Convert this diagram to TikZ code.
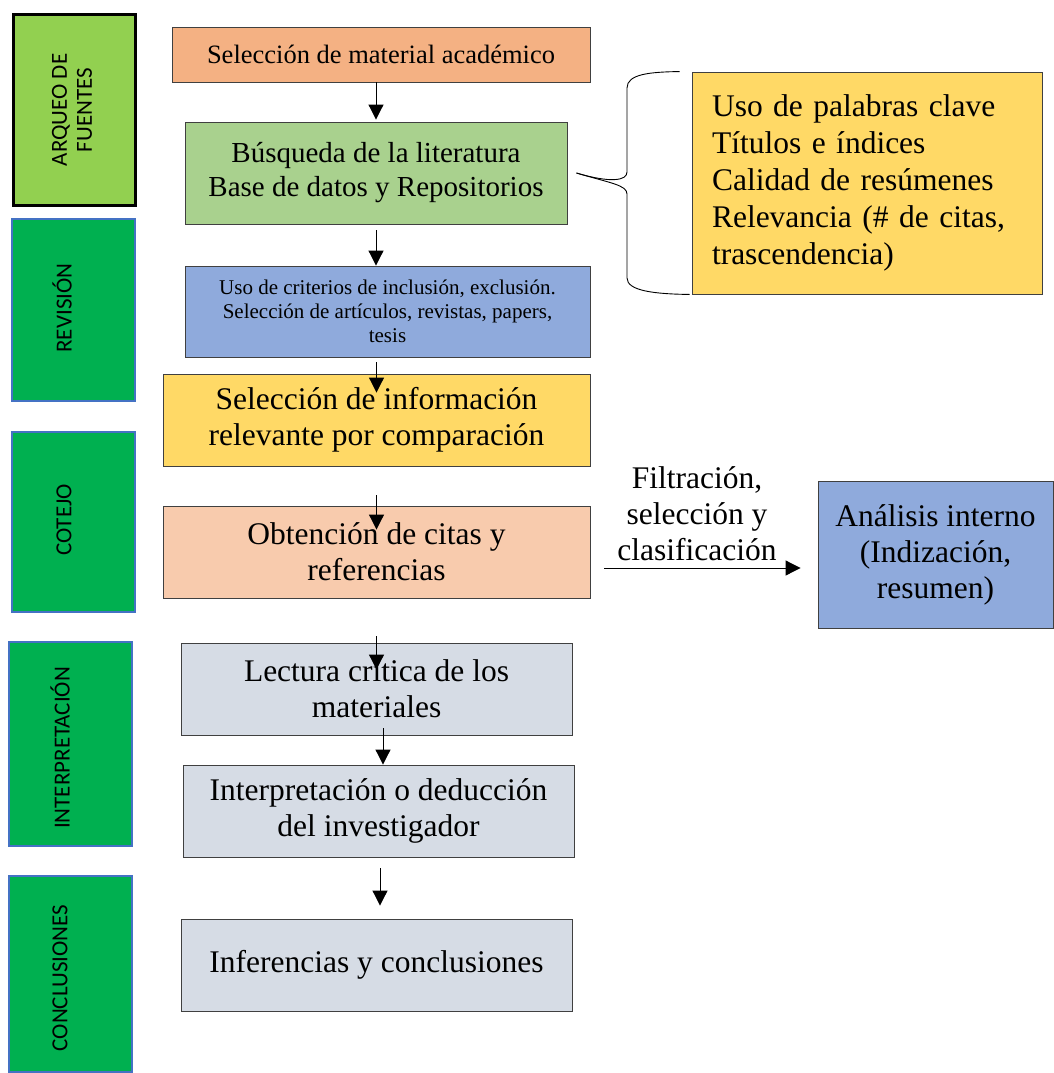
\documentclass[tikz,border=0pt]{standalone}
\usepackage{fontspec}
\setmainfont{Liberation Serif}
\newfontfamily\calfont{Carlito}
\usetikzlibrary{arrows.meta}
\definecolor{orangeA}{HTML}{F4B183}
\definecolor{greenA}{HTML}{A9D18E}
\definecolor{blueA}{HTML}{8FAADC}
\definecolor{yellowA}{HTML}{FFD966}
\definecolor{peachA}{HTML}{F8CBAD}
\definecolor{grayA}{HTML}{D6DCE5}
\definecolor{limeA}{HTML}{92D050}
\definecolor{greenB}{HTML}{00B050}
\definecolor{sideblue}{HTML}{4472C4}
\begin{document}
\begin{tikzpicture}[x=1pt,y=-1pt,
  box/.style={draw=black!75, line width=0.9pt, align=center, inner sep=0pt, font=\fontsize{31.5}{36}\selectfont},
  side/.style={draw=sideblue, line width=2.2pt, fill=greenB, inner sep=0pt},
  sidetxt/.style={rotate=90, align=center, inner sep=0pt, font=\calfont\fontsize{23}{25}\selectfont},
  arr/.style={-{Triangle[length=15pt,width=15pt]}, line width=1pt}]
\useasboundingbox (0,0) rectangle (1054,1073);

% sidebars
\node[side, draw=black, line width=3pt, fill=limeA, minimum width=122pt, minimum height=190pt] (s1) at (74,110) {};
\node[sidetxt] (t1) at (72,110) {ARQUEO DE\\FUENTES};
\node[side, minimum width=123pt, minimum height=182pt] (s2) at (73.5,310) {};
\node[sidetxt] (t2) at (62,308) {REVISIÓN};
\node[side, minimum width=123pt, minimum height=180pt] (s3) at (73.5,522) {};
\node[sidetxt] (t3) at (64,520) {COTEJO};
\node[side, minimum width=123pt, minimum height=204pt] (s4) at (70.5,744) {};
\node[sidetxt] (t4) at (60,748) {INTERPRETACIÓN};
\node[side, minimum width=123pt, minimum height=196pt] (s5) at (70.5,974) {};
\node[sidetxt] (t5) at (60,978) {CONCLUSIONES};

% main column
\node[box, fill=orangeA, minimum width=418pt, minimum height=55pt, font=\fontsize{26.5}{30}\selectfont] (b1) at (381,54.5) {Selección de material académico};
\node[box, fill=greenA, minimum width=382pt, minimum height=102pt, font=\fontsize{29}{34}\selectfont] (b2) at (376,173) {Búsqueda de la literatura\\Base de datos y Repositorios};
\node[box, fill=blueA, minimum width=405pt, minimum height=91pt, font=\fontsize{21}{24}\selectfont] (b3) at (387.5,311.5) {Uso de criterios de inclusión, exclusión.\\Selección de artículos, revistas, papers,\\tesis};
\node[box, fill=yellowA, minimum width=427pt, minimum height=92pt] (b4) at (376.5,420) {Selección de información\\relevante por comparación};
\node[box, fill=peachA, minimum width=427pt, minimum height=92pt] (b5) at (376.5,552) {Obtención de citas y\\referencias};
\node[box, fill=grayA, minimum width=391pt, minimum height=92pt] (b6) at (376.5,689) {Lectura crítica de los\\materiales};
\node[box, fill=grayA, minimum width=391pt, minimum height=92pt] (b7) at (378.5,811) {Interpretación o deducción\\del investigador};
\node[box, fill=grayA, minimum width=391pt, minimum height=92pt] (b8) at (376.5,965) {Inferencias y conclusiones};

% right side
\node[box, fill=yellowA, minimum width=350pt, minimum height=222pt, text width=310pt, align=left, font=\fontsize{31.5}{37}\selectfont] (r1) at (867,183) {Uso de palabras clave\\Títulos e índices\\Calidad de resúmenes\\Relevancia (\# de citas,\\trascendencia)};
\node[box, fill=blueA, minimum width=235pt, minimum height=147pt] (r2) at (935.5,554.5) {Análisis interno\\(Indización,\\resumen)};
\node[align=center, inner sep=0pt, font=\fontsize{31.5}{36}\selectfont] (lab) at (697,514) {Filtración,\\selección y\\clasificación};

% brace
\coordinate (bt) at ([xshift=9pt]b2.east);
\coordinate (btop) at ([xshift=-12pt]r1.north west);
\coordinate (bbot) at ([xshift=-2pt]r1.south west);
\draw[line width=0.9pt] (bt) .. controls (610,183) and (627,181) .. (627,172) -- (627,88)
  .. controls (627,74) and (650,72) .. (btop);
\draw[line width=0.9pt] (bt) .. controls (610,183) and (627,185) .. (627,194) -- (627,278)
  .. controls (627,291) and (655,294) .. (bbot);

% arrows
\draw[arr] (b1.south -| b2.north) -- ([yshift=2pt]b2.north);
\draw[arr] ([yshift=-6pt]b2.south) -- (b3.north -| b2.south);
\draw[arr] ([yshift=-5pt]b3.south -| b4.north) -- ([yshift=-19pt]b4.north);
\draw[arr] ([yshift=-29pt]b4.south) -- ([yshift=-24pt]b5.north);
\draw[arr] ([yshift=-38pt]b5.south) -- ([yshift=-27pt]b6.north);
\draw[arr] ([xshift=6.5pt,yshift=7pt]b6.south) -- ([xshift=4.5pt]b7.north);
\draw[arr] ([xshift=1.5pt,yshift=-11pt]b7.south) -- ([xshift=3.5pt,yshift=13pt]b8.north);
\draw[arr] ([xshift=14pt,yshift=-16pt]b5.east) -- ([xshift=-17pt,yshift=-16pt]b5.east -| r2.west);
\end{tikzpicture}
\end{document}
